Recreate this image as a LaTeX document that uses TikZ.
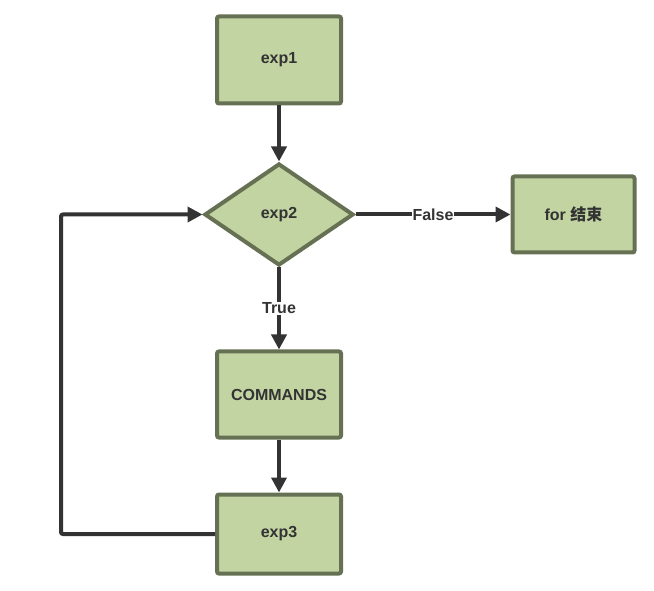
\documentclass[tikz,border=0pt]{standalone}
\usepackage{fontspec}
\setmainfont{Liberation Sans}
\newfontfamily\cjk{Noto Sans CJK SC}
\usepackage{tikz}
\usetikzlibrary{arrows.meta,positioning,shapes.geometric}
\definecolor{flfill}{RGB}{194,212,162}
\definecolor{fledge}{RGB}{102,112,82}
\definecolor{flline}{RGB}{51,51,51}
\tikzset{
  flbox/.style={
    draw=fledge, fill=flfill, line width=4pt, rounded corners=2pt,
    align=center, inner sep=2pt, font=\fontsize{16}{19}\selectfont\bfseries,
    text=black!80, minimum width=124pt, minimum height=86pt
  },
  fldec/.style={
    flbox, diamond, rounded corners=0pt,
    minimum width=149pt, minimum height=102pt, inner sep=0pt
  },
  arr/.style={-{Triangle[length=15pt,width=15pt]}, draw=flline, line width=4pt},
  lbl/.style={fill=white, inner sep=1pt, text=black!80,
    font=\fontsize{16}{19}\selectfont\bfseries}
}
\begin{document}
\begin{tikzpicture}
  \useasboundingbox (0,0) rectangle (654pt,590pt);
  \node[flbox, minimum height=87pt] (exp1) at (279pt,530pt) {exp1};
  \node[fldec, below=56pt of exp1] (exp2) {exp2};
  \node[flbox, below=82pt of exp2] (cmd) {COMMANDS};
  \node[flbox, minimum height=79pt, below=53pt of cmd] (exp3) {exp3};
  \node[flbox, minimum width=122pt, minimum height=76pt,
    right=155pt of exp2] (end) {for {\cjk 结束}};
  % connectors
  \draw[arr] (exp1) -- (exp2);
  \draw[arr] (exp2) -- node[lbl] {True} (cmd);
  \draw[arr] (exp2) -- node[lbl, pos=0.5] {False} (end);
  \draw[arr] (cmd) -- (exp3);
  \draw[arr, rounded corners=2pt] (exp3.west) -- ++(-154pt,0) |- (exp2.west);
\end{tikzpicture}
\end{document}
